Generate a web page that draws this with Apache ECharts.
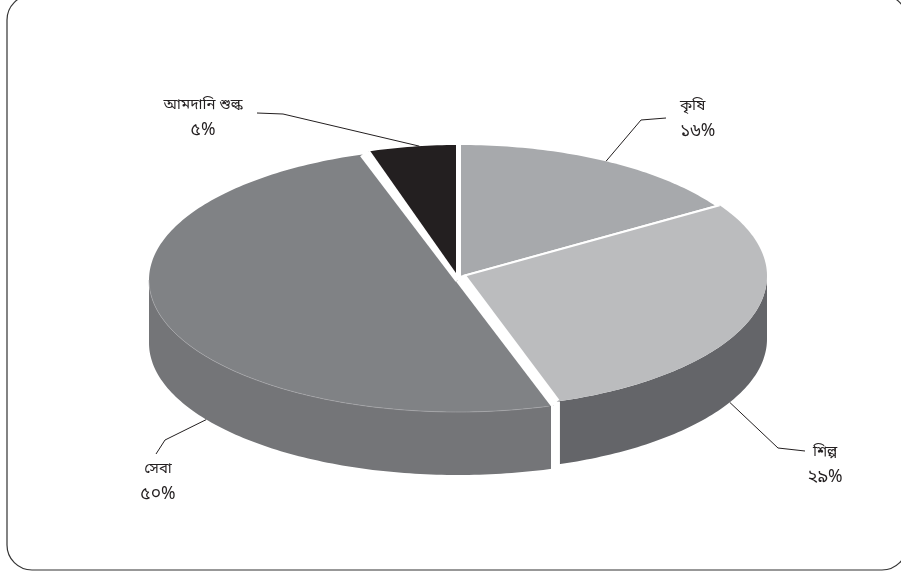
<!DOCTYPE html>
<html>
<head>
<meta charset="utf-8">
<style>html,body{margin:0;padding:0;background:#fff}#chart{width:901px;height:571px}</style>
<script src="https://cdn.jsdelivr.net/npm/echarts@6/dist/echarts.min.js"></script>
</head>
<body>
<div id="chart"></div>
<script>
// Share of each sector, in percent, clockwise from twelve o'clock
const categories = ['কৃষি', 'শিল্প', 'সেবা', 'আমদানি শুল্ক'];
const shares = [16, 29, 50, 5];
const shareLabels = ['১৬%', '২৯%', '৫০%', '৫%'];

// Colours of each slice
const topColors = ['#a7a9ac', '#bbbcbe', '#808285', '#231f20'];
const wallColors = ['#a7a9ac', '#646569', '#747578', '#231f20'];
const rimHighlights = [null, null, '#a9aaac', null];
const inkColor = '#231f20';

// Layout of the tilted disc: each slice is pulled a little off the shared centre
const sliceCentersX = [460, 463, 458, 457];
const sliceCentersY = [277, 276, 280, 277];
const sliceRadiiX = [303, 304, 309, 286];
const radiusY = 132;
const depth = 63;

// Width of the white cut along each slice's leading and trailing radial edge
const startCuts = [2, 2, 5, 3];
const endCuts = [2, 6, 6, 2];

// Leader lines: where along its arc each one leaves the slice, whether it starts
// from the lower rim, and the label it runs to
const leaderAlong = [0.5, 0.585, 0.403, 0.58];
const leaderOnRim = [false, true, true, false];
const leaderBends = [[[641, 120], [666, 118]], [[778, 448], [805, 451]], [[165, 440], [156, 454]], [[283, 114], [257, 113]]];
const labelAnchors = [[680, 120, 'left'], [825, 466, 'center'], [158, 483, 'center'], [203, 119, 'center']];

const total = shares.reduce((a, b) => a + b, 0);
const sliceAngles = [];
shares.reduce((start, v) => {
  const end = start + v / total * 360;
  sliceAngles.push([start, end]);
  return end;
}, 0);

function rimPoint(i, deg, drop) {
  const t = deg * Math.PI / 180;
  return [
    sliceCentersX[i] + sliceRadiiX[i] * Math.sin(t),
    sliceCentersY[i] - radiusY * Math.cos(t) + (drop || 0)
  ];
}

function arcPoints(i, from, to, drop) {
  const pts = [];
  const steps = Math.max(2, Math.ceil(Math.abs(to - from)));
  for (let k = 0; k <= steps; k++) pts.push(rimPoint(i, from + (to - from) * k / steps, drop));
  return pts;
}

function cutLine(points, width) {
  return { type: 'polyline', shape: { points }, style: { fill: null, stroke: '#ffffff', lineWidth: width } };
}

// Outer wall: only the part of the rim that faces the viewer, with the white
// cut carried down wherever a radial edge meets the front of the disc
function renderWall(params) {
  const i = params.dataIndex;
  const [a0, a1] = sliceAngles[i];
  const from = Math.max(a0, 90);
  const to = Math.min(a1, 270);
  if (to <= from) return null;
  const points = arcPoints(i, from, to, 0).concat(arcPoints(i, to, from, depth));
  const children = [{ type: 'polygon', shape: { points }, style: { fill: wallColors[i], stroke: null } }];
  if (a0 >= 90 && a0 <= 270) children.push(cutLine([rimPoint(i, a0, 0), rimPoint(i, a0, depth + 3)], startCuts[i]));
  if (a1 >= 90 && a1 <= 270) children.push(cutLine([rimPoint(i, a1, 0), rimPoint(i, a1, depth + 3)], endCuts[i]));
  return { type: 'group', children };
}

function renderTop(params) {
  const i = params.dataIndex;
  const center = [sliceCentersX[i], sliceCentersY[i]];
  const [a0, a1] = sliceAngles[i];
  const points = [center].concat(arcPoints(i, a0, a1, 0));
  return {
    type: 'group',
    children: [
      { type: 'polygon', shape: { points }, style: { fill: topColors[i], stroke: null } },
      cutLine([center, rimPoint(i, a0, 0)], startCuts[i]),
      cutLine([center, rimPoint(i, a1, 0)], endCuts[i])
    ]
  };
}

// Faint light seam where the front wall meets the top face
function renderRim(params) {
  const i = params.dataIndex;
  if (!rimHighlights[i]) return null;
  const [a0, a1] = sliceAngles[i];
  return {
    type: 'polyline',
    shape: { points: arcPoints(i, Math.max(a0, 90) + 1.5, Math.min(a1, 270), 0) },
    style: { fill: null, stroke: rimHighlights[i], lineWidth: 0.6 }
  };
}

function renderLabel(params) {
  const i = params.dataIndex;
  const deg = sliceAngles[i][0] + (sliceAngles[i][1] - sliceAngles[i][0]) * leaderAlong[i];
  const start = rimPoint(i, deg, leaderOnRim[i] ? depth : 0);
  return {
    type: 'group',
    children: [
      { type: 'polyline', shape: { points: [start].concat(leaderBends[i]) }, style: { fill: null, stroke: inkColor, lineWidth: 1 } },
      {
        type: 'text',
        style: {
          x: labelAnchors[i][0], y: labelAnchors[i][1],
          text: '{name|' + categories[i] + '}\n{share|' + shareLabels[i] + '}',
          align: labelAnchors[i][2], verticalAlign: 'middle',
          rich: {
            name: { font: '15px "Noto Sans Bengali", "Noto Sans", sans-serif', fill: inkColor, lineHeight: 26 },
            share: { font: '17.5px "Noto Sans Bengali", "Noto Sans", sans-serif', fill: inkColor, lineHeight: 26 }
          }
        }
      }
    ]
  };
}

const sliceData = shares.map((v, i) => ({ name: categories[i], value: v }));
const chart = echarts.init(document.getElementById('chart'), null, { renderer: 'canvas' });
const sliceSeries = (renderItem, z) => ({ type: 'custom', coordinateSystem: 'none', renderItem, data: sliceData, z, silent: true });
chart.setOption({
  animation: false,
  backgroundColor: '#ffffff',
  graphic: [{
    type: 'rect',
    shape: { x: 7, y: -5, width: 900, height: 575, r: 25 },
    style: { fill: 'none', stroke: '#333333', lineWidth: 1.2 },
    silent: true
  }],
  series: [
    sliceSeries(renderLabel, 2),
    sliceSeries(renderWall, 3),
    sliceSeries(renderTop, 4),
    sliceSeries(renderRim, 5)
  ]
});
</script>
</body>
</html>
